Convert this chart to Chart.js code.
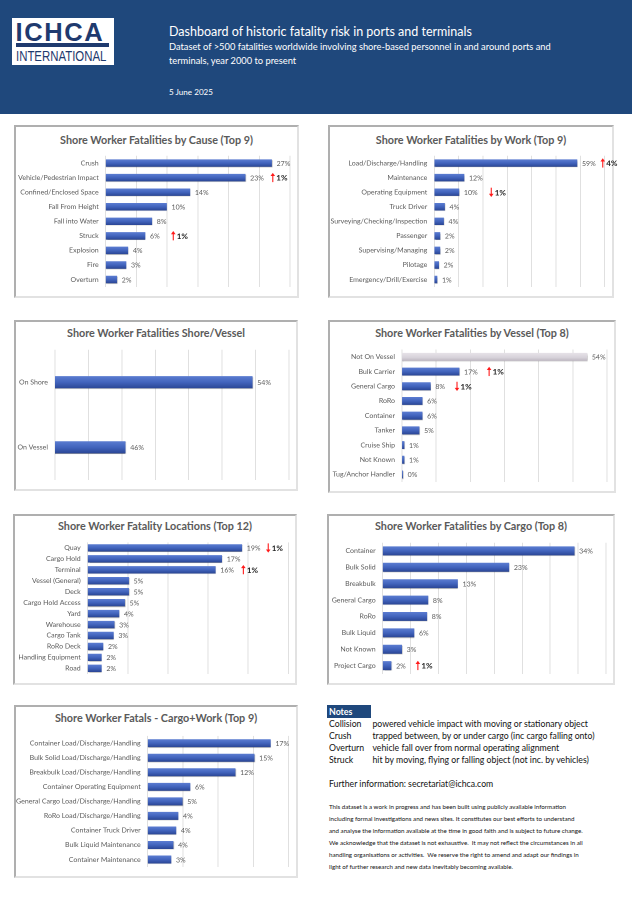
<!DOCTYPE html>
<html><head><meta charset="utf-8">
<script src="https://cdn.jsdelivr.net/npm/chart.js@4.4.1/dist/chart.umd.min.js"></script>
<style>
html,body{margin:0;padding:0}
body{width:632px;height:897px;position:relative;background:#fff;font-family:Lato,'Open Sans',sans-serif;overflow:hidden}
.abs{position:absolute;white-space:nowrap}
#hdr{position:absolute;left:0;top:0;width:632px;height:114px;background:#1F487C}
#logo{position:absolute;left:12px;top:18px;width:102px;height:47px;background:#fff}
.panel{position:absolute;box-sizing:border-box;border:2px solid #E2E2E2;border-top-color:#AFAFAF;border-left-color:#AFAFAF;background:#fff}
.ptitle{position:absolute;text-align:center;font-weight:700;color:#5A5A5A;font-size:10.8px;height:14px;line-height:14px;white-space:nowrap}
.hw{color:#fff}
.note{font-size:8.7px;color:#111;line-height:12px}
.fine{font-size:6.2px;color:#111;line-height:11.9px}
</style></head>
<body>
<div id="hdr"></div>
<div id="logo"></div>
<div class="abs" style="left:15.5px;top:18.5px;font-family:'Liberation Sans',Arial,sans-serif;font-weight:700;font-size:25.5px;line-height:26px;color:#1F3A6E;letter-spacing:1.6px">ICHCA</div>
<div class="abs" style="left:16px;top:43px;width:93px;height:3.5px;background:#1F3A6E"></div>
<div class="abs" style="left:16px;top:48px;font-family:'Liberation Sans',Arial,sans-serif;font-size:15px;line-height:16px;color:#1F3A6E;transform:scaleX(0.76);transform-origin:left top">INTERNATIONAL</div>
<div class="abs hw" style="left:169px;top:24px;font-size:12.5px;line-height:16px">Dashboard of historic fatality risk in ports and terminals</div>
<div class="abs hw" style="left:169px;top:40px;font-size:9.3px;line-height:14px">Dataset of &gt;500 fatalities worldwide involving shore-based personnel in and around ports and<br>terminals, year 2000 to present</div>
<div class="abs hw" style="left:169px;top:87px;font-size:8.1px;line-height:11px">5 June 2025</div>

<div class="abs" style="left:327px;top:705px;width:44px;height:13px;background:#1F487C"></div>
<div class="abs" style="left:329px;top:705px;color:#fff;font-weight:700;font-size:8.8px;line-height:13px">Notes</div>
<div id="notes"></div>
<div class="abs" style="left:329px;top:778px;font-size:8.7px;line-height:12px;color:#111">Further information: secretariat@ichca.com</div>
<div class="abs fine" style="left:329px;top:801.4px">This dataset is a work in progress and has been built using publicly available information<br>including formal investigations and news sites. It constitutes our best efforts to understand<br>and analyse the information available at the time in good faith and is subject to future change.<br>We acknowledge that the dataset is not exhaustive.&nbsp; It may not reflect the circumstances in all<br>handling organisations or activities.&nbsp; We reserve the right to amend and adapt our findings in<br>light of further research and new data inevitably becoming available.</div>

<script>
// ---------- DATA ----------
const causeCats = ['Crush','Vehicle/Pedestrian Impact','Confined/Enclosed Space','Fall From Height','Fall into Water','Struck','Explosion','Fire','Overturn'];
const causeVals = [27.0,22.7,13.7,9.9,7.5,6.4,3.6,3.3,1.8];

const workCats = ['Load/Discharge/Handling','Maintenance','Operating Equipment','Truck Driver','Surveying/Checking/Inspection','Passenger','Supervising/Managing','Pilotage','Emergency/Drill/Exercise'];
const workVals = [58.6,12.2,10.1,4.2,3.8,2.3,2.3,1.8,1.1];

const shoreCats = ['On Shore','On Vessel'];
const shoreVals = [53.8,46.2];

const vesselCats = ['Not On Vessel','Bulk Carrier','General Cargo','RoRo','Container','Tanker','Cruise Ship','Not Known','Tug/Anchor Handler'];
const vesselVals = [54.1,16.7,8.3,5.9,5.9,5.0,0.6,0.6,0.2];

const locCats = ['Quay','Cargo Hold','Terminal','Vessel (General)','Deck','Cargo Hold Access','Yard','Warehouse','Cargo Tank','RoRo Deck','Handling Equipment','Road'];
const locVals = [19.2,16.7,15.9,5.1,5.1,4.6,3.9,3.3,3.2,1.9,1.7,1.7];

const cargoCats = ['Container','Bulk Solid','Breakbulk','General Cargo','RoRo','Bulk Liquid','Not Known','Project Cargo'];
const cargoVals = [34.3,22.6,13.4,8.1,7.9,5.6,3.4,1.5];

const cwCats = ['Container Load/Discharge/Handling','Bulk Solid Load/Discharge/Handling','Breakbulk Load/Discharge/Handling','Container Operating Equipment','General Cargo Load/Discharge/Handling','RoRo Load/Discharge/Handling','Container Truck Driver','Bulk Liquid Maintenance','Container Maintenance'];
const cwVals = [17.4,15.1,12.4,6.0,4.9,4.3,4.0,3.6,3.3];

// change markers (category index, direction, text)
const causeChanges = [{i:1,dir:'up',text:'1%'},{i:5,dir:'up',text:'1%'}];
const workChanges = [{i:0,dir:'up',text:'4%'},{i:2,dir:'down',text:'1%'}];
const vesselChanges = [{i:1,dir:'up',text:'1%'},{i:2,dir:'down',text:'1%'}];
const locChanges = [{i:0,dir:'down',text:'1%'},{i:2,dir:'up',text:'1%'}];
const cargoChanges = [{i:7,dir:'up',text:'1%'}];

const noteTerms = ['Collision','Crush','Overturn','Struck'];
const noteDefs = ['powered vehicle impact with moving or stationary object','trapped between, by or under cargo (inc cargo falling onto)','vehicle fall over from normal operating alignment','hit by moving, flying or falling object (not inc. by vehicles)'];

// ---------- NOTES ----------
(function(){
  const n=document.getElementById('notes');
  noteTerms.forEach((t,k)=>{
    const y=718+k*12;
    n.insertAdjacentHTML('beforeend',`<div class="abs note" style="left:329px;top:${y}px">${t}</div><div class="abs note" style="left:372.5px;top:${y}px">${noteDefs[k]}</div>`);
  });
})();

// ---------- CHARTS ----------
Chart.defaults.font.family = "Lato, 'Open Sans', sans-serif";

function barFill(grayIndex){
  return function(ctx){
    const ch=ctx.chart, ys=ch.scales && ch.scales.y;
    const gray = ctx.dataIndex===grayIndex;
    if(!ys || !ch.chartArea) return gray?'#D6D1D9':'#4062BA';
    const yc=ys.getPixelForValue(ctx.dataIndex), h=ctx.dataset.barThickness/2;
    const g=ch.ctx.createLinearGradient(0,yc-h,0,yc+h);
    if(gray){ g.addColorStop(0,'#E6E2E8'); g.addColorStop(0.6,'#D7D2DA'); g.addColorStop(1,'#BFB9C3'); }
    else { g.addColorStop(0,'#5A7BD0'); g.addColorStop(0.5,'#4264BD'); g.addColorStop(1,'#2C4898'); }
    return g;
  };
}

const valPlugin = {
  id:'vals',
  beforeDatasetsDraw(chart){
    const c=chart.ctx; c.save();
    c.shadowColor='rgba(0,0,0,0.38)'; c.shadowBlur=1.6; c.shadowOffsetX=0.8; c.shadowOffsetY=1.3;
  },
  afterDatasetsDraw(chart,args,opts){
    const c=chart.ctx; c.restore(); c.save();
    const meta=chart.getDatasetMeta(0), ds=chart.data.datasets[0];
    c.font="7px Lato, 'Open Sans', sans-serif"; c.fillStyle='#595959';
    c.textBaseline='middle'; c.textAlign='left';
    meta.data.forEach((bar,i)=>{ c.fillText(Math.round(ds.data[i])+'%', bar.x+5, bar.y+0.5); });
    (opts.notes||[]).forEach(n=>{
      const bar=meta.data[n.i]; const x=chart.scales.x.getPixelForValue(n.at); const y=bar.y;
      c.strokeStyle='#FF1A1A'; c.fillStyle='#FF1A1A'; c.lineWidth=1.1;
      c.beginPath();
      if(n.dir==='up'){
        c.moveTo(x,y+4.5); c.lineTo(x,y-2); c.stroke();
        c.beginPath(); c.moveTo(x,y-4.8); c.lineTo(x-2.3,y-1.6); c.lineTo(x+2.3,y-1.6); c.closePath(); c.fill();
      } else {
        c.moveTo(x,y-4.5); c.lineTo(x,y+2); c.stroke();
        c.beginPath(); c.moveTo(x,y+4.8); c.lineTo(x-2.3,y+1.6); c.lineTo(x+2.3,y+1.6); c.closePath(); c.fill();
      }
      c.fillStyle='#262626'; c.font="bold 8px Lato, 'Open Sans', sans-serif";
      c.fillText(n.text, x+3.5, y+0.5);
    });
    c.restore();
  }
};

const EXTRA = 16; // canvas extends past panel so labels may overhang its border
function makeChart(title, cats, vals, cfg){
  const [px,py,pw,ph]=cfg.panel, [l,t,r,b]=cfg.area;
  const p=document.createElement('div'); p.className='panel';
  p.style.cssText=`left:${px}px;top:${py}px;width:${pw}px;height:${ph}px`;
  document.body.appendChild(p);
  const tt=document.createElement('div'); tt.className='ptitle'; tt.textContent=title;
  tt.style.cssText=`left:${px}px;width:${pw}px;top:${cfg.ty-7}px`;
  document.body.appendChild(tt);
  const cw=pw+EXTRA;
  const cv=document.createElement('canvas'); cv.width=cw; cv.height=ph;
  cv.style.cssText=`position:absolute;left:${px}px;top:${py}px;width:${cw}px;height:${ph}px`;
  document.body.appendChild(cv);
  const notes=(cfg.changes||[]).map((c,k)=>Object.assign({},c,{at:cfg.at[k]}));
  new Chart(cv,{
    type:'bar',
    data:{labels:cats,datasets:[{data:vals,barThickness:cfg.thick,backgroundColor:barFill(cfg.gray),borderWidth:0}]},
    options:{
      indexAxis:'y',responsive:false,animation:false,events:[],devicePixelRatio:2,
      layout:{padding:{left:0,top:t-py,right:px+cw-r,bottom:py+ph-b}},
      plugins:{legend:{display:false},tooltip:{enabled:false},vals:{notes}},
      scales:{
        x:{min:cfg.min||0,max:cfg.max,ticks:{display:false,stepSize:cfg.step},
           grid:{color:'#D9D9D9',lineWidth:0.8,drawTicks:false},border:{display:false},
           afterFit:s=>{s.height=0;}},
        y:{ticks:{color:'#595959',font:{size:7},padding:7,autoSkip:false},
           grid:{display:false,drawTicks:false},border:{display:false},
           afterFit:s=>{s.width=l-px;}}
      }
    },
    plugins:[valPlugin]
  });
}

makeChart('Shore Worker Fatalities by Cause (Top 9)', causeCats, causeVals,
  {panel:[14,125,285,173],area:[105.7,155.8,290,290.2],ty:139.5,max:30,step:5,thick:6.8,changes:causeChanges,at:[27.2,11.0]});
makeChart('Shore Worker Fatalities by Work (Top 9)', workCats, workVals,
  {panel:[328,125,286,173],area:[434.3,155.8,604.7,290.2],ty:140,max:70,step:10,thick:6.8,changes:workChanges,at:[69.2,23.4]});
makeChart('Shore Worker Fatalities Shore/Vessel', shoreCats, shoreVals,
  {panel:[14,320,284,171],area:[55,349.7,289,483],ty:333,min:42,max:56,step:2,thick:11.5});
makeChart('Shore Worker Fatalities by Vessel (Top 8)', vesselCats, vesselVals,
  {panel:[328,320,288,173],area:[402,349.5,607,484.5],ty:333,max:60,step:10,thick:7.3,gray:0,changes:vesselChanges,at:[25.5,16.1]});
makeChart('Shore Worker Fatality Locations (Top 12)', locCats, locVals,
  {panel:[13,514,284,171],area:[87.7,542.4,288.3,675.9],ty:526,max:25,step:5,thick:6.7,changes:locChanges,at:[22.5,19.4]});
makeChart('Shore Worker Fatalities by Cargo (Top 8)', cargoCats, cargoVals,
  {panel:[327,514,288,171],area:[382.7,542.7,606,676],ty:526,max:40,step:5,thick:8.3,changes:cargoChanges,at:[6.3]});
makeChart('Shore Worker Fatals - Cargo+Work (Top 9)', cwCats, cwVals,
  {panel:[14,705,284,173],area:[147.7,735.9,288.7,869.4],ty:718,max:20,step:5,thick:7.3});
</script>
</body></html>
